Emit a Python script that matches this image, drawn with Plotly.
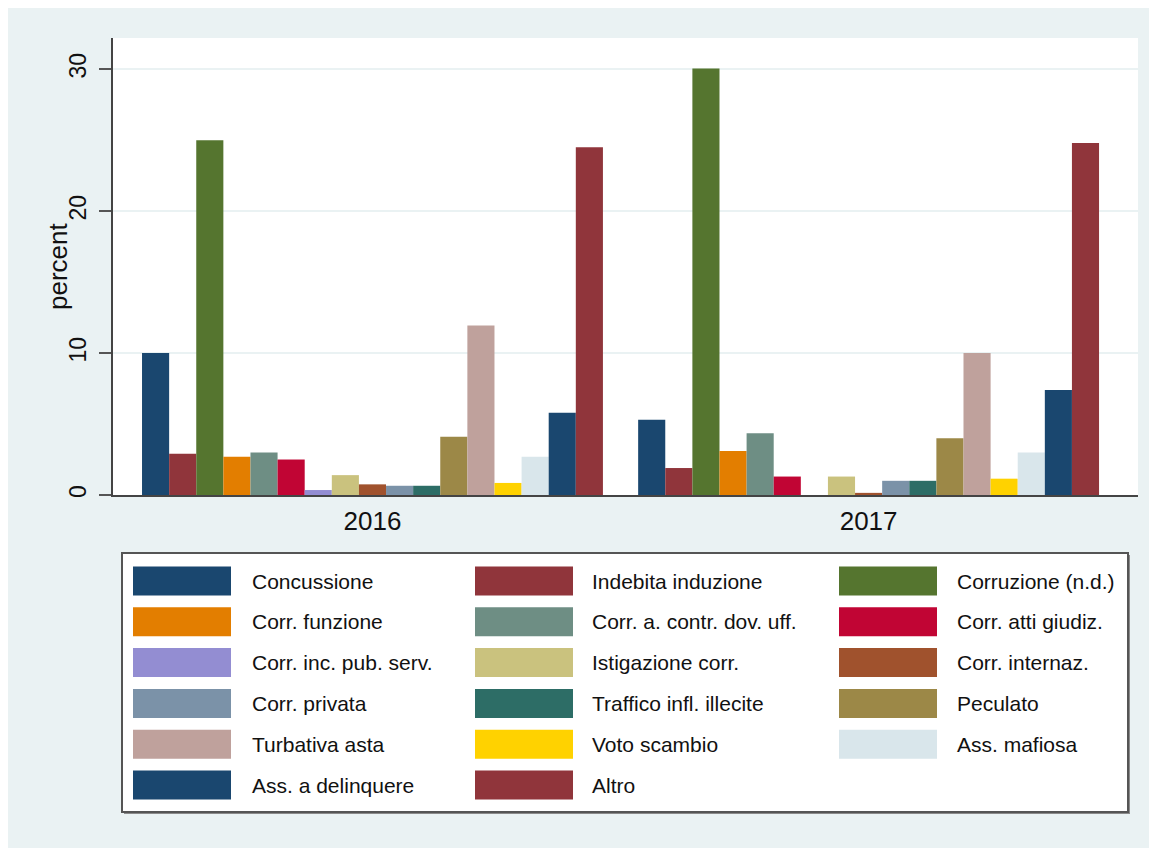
import plotly.graph_objects as go

# data
years = [2016, 2017]
categories = [
    "Concussione", "Indebita induzione", "Corruzione (n.d.)",
    "Corr. funzione", "Corr. a. contr. dov. uff.", "Corr. atti giudiz.",
    "Corr. inc. pub. serv.", "Istigazione corr.", "Corr. internaz.",
    "Corr. privata", "Traffico infl. illecite", "Peculato",
    "Turbativa asta", "Voto scambio", "Ass. mafiosa",
    "Ass. a delinquere", "Altro",
]
pct_2016 = [10.0, 2.9, 25.0, 2.7, 3.0, 2.5, 0.35, 1.4, 0.75, 0.65, 0.65,
            4.1, 11.95, 0.85, 2.7, 5.8, 24.5]
pct_2017 = [5.3, 1.9, 30.05, 3.1, 4.35, 1.3, 0.0, 1.3, 0.15, 1.0, 1.0,
            4.0, 10.0, 1.15, 3.0, 7.4, 24.8]

# Stata s2color palette
colors = [
    "#1A476F", "#90353B", "#55752F", "#E37E00", "#6E8E84", "#C10534",
    "#938DD2", "#CAC27E", "#A0522D", "#7B92A8", "#2D6D66", "#9C8847",
    "#BFA19C", "#FFD200", "#D9E6EB", "#1A476F", "#90353B",
]

# the page body adds an 8px margin, so the figure sits at (8, 8)
OFF = 8
W, H = 1157 - OFF, 848 - OFF
L, R, T, B = 113 - OFF, 19, 38 - OFF, 353
PW, PH = W - L - R, H - T - B
BG = "#EAF2F3"
FONT = "Liberation Sans, Arial, sans-serif"


def px(x):
    # screen x (reference picture) -> paper fraction
    return (x - OFF - L) / PW


def py(y):
    # screen y (reference picture) -> paper fraction
    return (H - B - (y - OFF)) / PH


fig = go.Figure()
for i, name in enumerate(categories):
    fig.add_trace(go.Bar(
        x=years,
        y=[pct_2016[i], pct_2017[i]],
        name=name,
        marker=dict(color=colors[i], line=dict(width=0)),
        showlegend=False,
    ))

shapes = [
    # legend box with a soft shadow
    dict(type="rect", xref="paper", yref="paper", x0=px(124), x1=px(1130),
         y0=py(814), y1=py(555), fillcolor="#8A8A8A", line=dict(width=0)),
    dict(type="rect", xref="paper", yref="paper", x0=px(122), x1=px(1128),
         y0=py(812), y1=py(553), fillcolor="white",
         line=dict(color="#555555", width=2)),
]
annotations = [
    dict(text="percent", xref="paper", yref="paper", x=px(58), y=py(267),
         textangle=-90, showarrow=False, xanchor="center", yanchor="middle",
         font=dict(size=26, color="#111111", family=FONT)),
]

swatch_x = [133, 475, 839]
text_x = [250, 590, 955]
for i, name in enumerate(categories):
    r, c = divmod(i, 3)
    yc = 581 + 40.8 * r
    shapes.append(dict(
        type="rect", xref="paper", yref="paper",
        x0=px(swatch_x[c]), x1=px(swatch_x[c] + 98),
        y0=py(yc + 14.5), y1=py(yc - 14.5),
        fillcolor=colors[i], line=dict(width=0),
    ))
    annotations.append(dict(
        text=name, xref="paper", yref="paper", x=px(text_x[c]), y=py(yc),
        showarrow=False, xanchor="left", yanchor="middle",
        font=dict(size=21, color="#111111", family=FONT),
    ))

fig.update_layout(
    width=W, height=H,
    margin=dict(l=L, r=R, t=T, b=B),
    paper_bgcolor=BG,
    plot_bgcolor="white",
    barmode="group",
    bargap=0.071,
    bargroupgap=0,
    font=dict(family=FONT, color="#111111"),
    shapes=shapes,
    annotations=annotations,
)
fig.update_xaxes(
    range=[2015.477, 2017.543],
    tickvals=years,
    ticktext=[str(y) for y in years],
    ticks="",
    showgrid=False,
    zeroline=False,
    showline=True, linecolor="#444444", linewidth=2,
    tickfont=dict(size=26, color="#111111"),
    ticklabelstandoff=2,
)
fig.update_yaxes(
    range=[0, 32.2],
    tickvals=[0, 10, 20, 30],
    tickangle=-90,
    ticks="outside", ticklen=12, tickwidth=2, tickcolor="#555555",
    showgrid=True, gridcolor=BG, gridwidth=2,
    zeroline=False,
    showline=True, linecolor="#444444", linewidth=2,
    tickfont=dict(size=23, color="#111111"),
    ticklabelstandoff=4,
)

fig.write_html("out.html")
